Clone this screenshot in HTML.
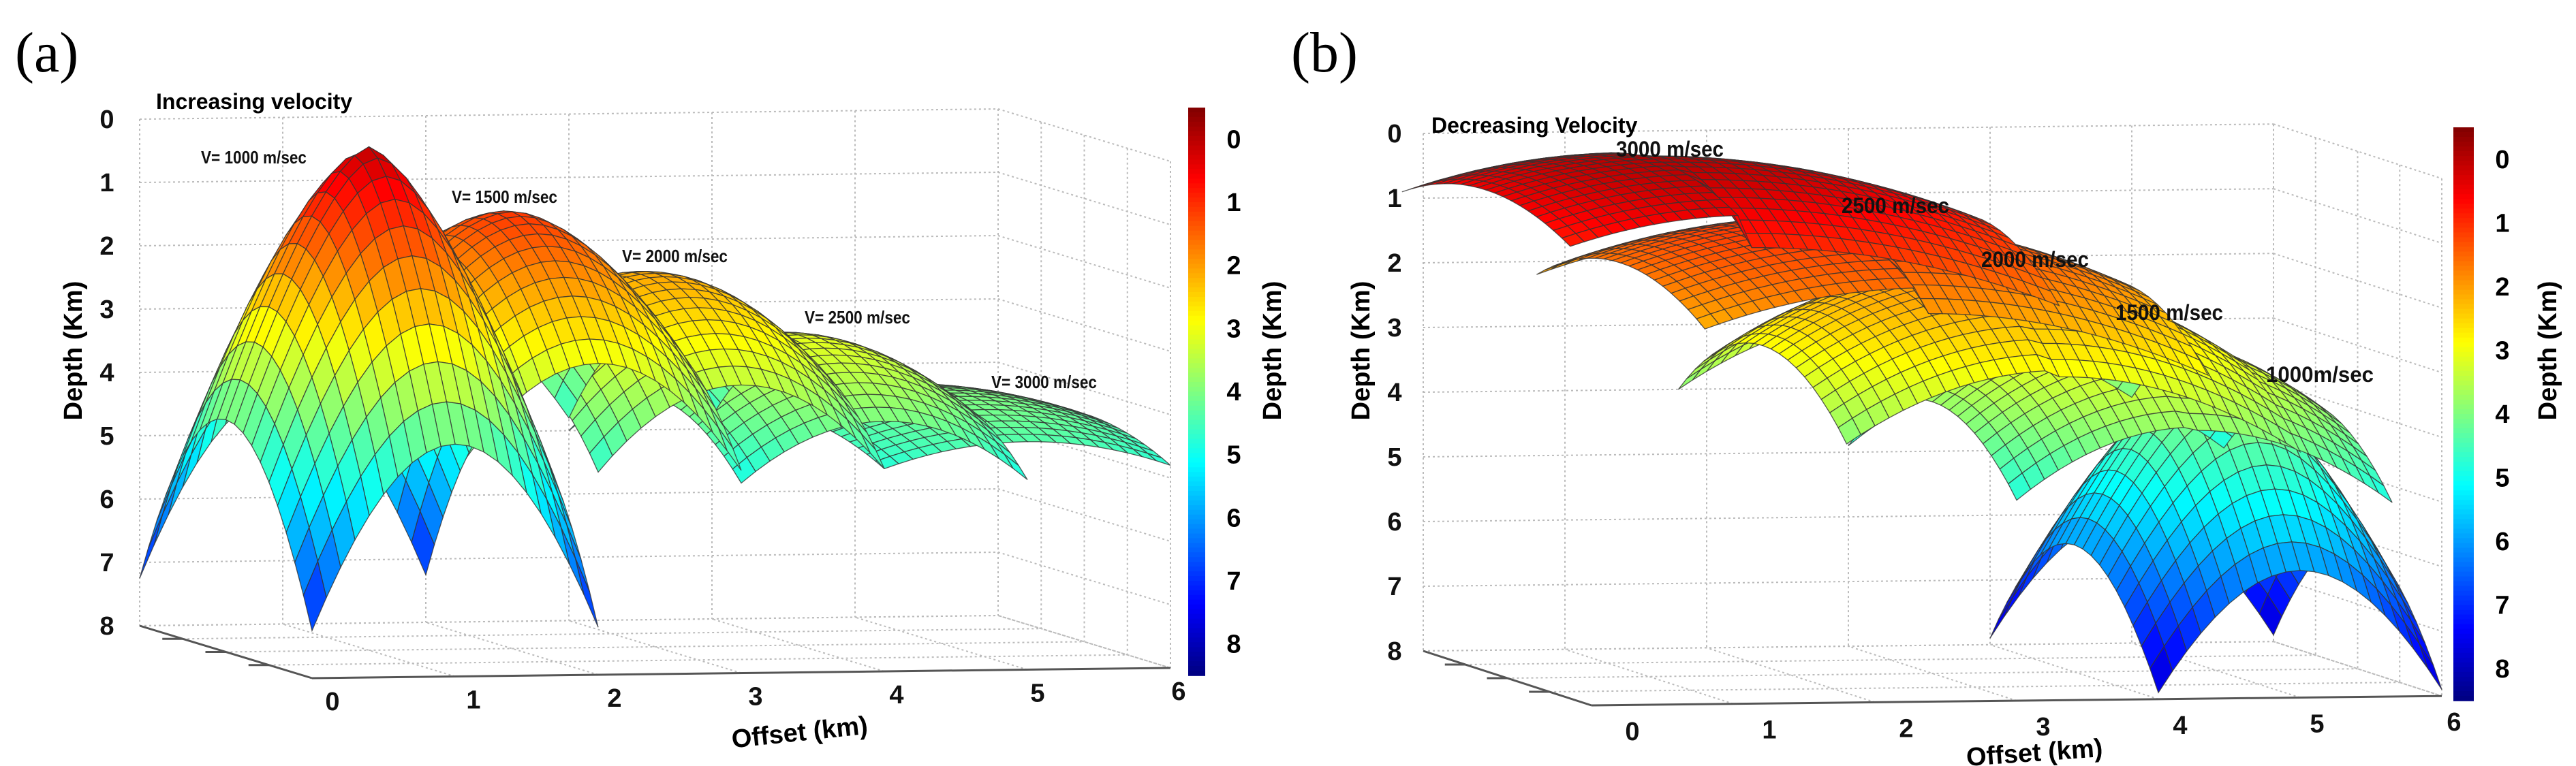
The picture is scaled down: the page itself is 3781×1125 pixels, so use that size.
<!DOCTYPE html>
<html><head><meta charset="utf-8"><style>
html,body{margin:0;padding:0;background:#fff;}
svg{display:block;font-family:"Liberation Sans",sans-serif;}
</style></head><body>
<svg id="fig" width="3781" height="1125" viewBox="0 0 3781 1125" xmlns="http://www.w3.org/2000/svg">
<rect x="0" y="0" width="3781" height="1125" fill="#fff"/>
<g id="panelA"></g>
<g id="panelB"></g>
</svg>
<script>
// ---- data ----
const xTicks = [0,1,2,3,4,5,6];
const zTicks = [0,1,2,3,4,5,6,7,8];
const cbTicks = [0,1,2,3,4,5,6,7,8];
// panel (a): increasing velocity
const aVel = ["V= 1000 m/sec","V= 1500 m/sec","V= 2000 m/sec","V= 2500 m/sec","V= 3000 m/sec"];
const aCenter = [1,2,3,4,5];
const aHalfWL = [1,1,1,1,1];
const aHalfWR = [1,1,1,1,1];
const aApex = [0.05,1.1,2.1,3.1,4.0];
const aCornerL = [7.25,4.8,4.8,5.0,4.8];
const aCornerR = [7.25,4.8,4.8,5.0,4.8];
const aPow = [0.75,0.9,1,1,1];
// panel (b): decreasing velocity
const bVel = ["3000 m/sec","2500 m/sec","2000 m/sec","1500 m/sec","1000m/sec"];
const bCenter = [1.1,2.35,3.3,4.25,5];
const bHalfWL = [1.25,1.55,1.5,1.25,1];
const bHalfWR = [2.2,2.0,1.7,1.4,1];
const bApex = [0.0,1.0,1.8,2.7,3.3];
const bCornerL = [0.9,2.2,4.0,4.9,7.9];
const bCornerR = [1.9,3.0,4.2,5.0,7.9];
const bPow = [1,1,1,1,0.75];

const NS="http://www.w3.org/2000/svg";
function mk(parent,tag,attrs,text){const e=document.createElementNS(NS,tag);for(const k in attrs)e.setAttribute(k,attrs[k]);if(text!==undefined)e.textContent=text;parent.appendChild(e);return e;}
function jet(z){let v=1-(z+0.5)/9;const c=t=>Math.max(0,Math.min(1,t));
 const r=c(1.5-Math.abs(4*v-3)),g=c(1.5-Math.abs(4*v-2)),b=c(1.5-Math.abs(4*v-1));
 return `rgb(${Math.round(r*255)},${Math.round(g*255)},${Math.round(b*255)})`;}

function panel(g,cfg){
 const P=(x,t,z)=>[cfg.ox+x*cfg.ux+t*cfg.bx, cfg.oy+x*cfg.uy+t*cfg.by+(z-8)*cfg.zs];
 const grid=mk(g,'g',{stroke:'#bbb','stroke-width':2,'stroke-dasharray':'3 4',fill:'none'});
 
 const L=(a,b)=>mk(grid,'line',{x1:a[0],y1:a[1],x2:b[0],y2:b[1]});
 zTicks.forEach(z=>{L(P(0,1,z),P(6,1,z));L(P(6,1,z),P(6,0,z));});
 xTicks.forEach(x=>{L(P(x,1,0),P(x,1,8));L(P(x,0,8),P(x,1,8));});
 [0.25,0.5,0.75,1].forEach(t=>{L(P(6,t,0),P(6,t,8));L(P(0,t,8),P(6,t,8));});
 L(P(6,0,0),P(6,0,8));
 const ax=mk(g,'g',{stroke:'#555','stroke-width':3});
 
 let a=P(0,0,8),b=P(6,0,8);mk(ax,'line',{x1:a[0],y1:a[1],x2:b[0],y2:b[1]});
 a=P(0,1,8);mk(ax,'line',{x1:a[0],y1:a[1],x2:P(0,0,8)[0],y2:P(0,0,8)[1]});
 [0.25,0.5,0.75].forEach(t=>{const p=P(0,t,8);mk(ax,'line',{x1:p[0]-30,y1:p[1],x2:p[0],y2:p[1]});});
 // surfaces
 const sg=mk(g,'g',{stroke:'#333','stroke-width':1.3,'stroke-opacity':0.8});
 
 const NT=20;
 for(let s=cfg.center.length-1;s>=0;s--){
  const xc=cfg.center[s],wl=cfg.wl[s],wr=cfg.wr[s],z0=cfg.apex[s],zl=cfg.cl[s],zr=cfg.cr[s],p=cfg.pow[s];
  const surf=mk(sg,'g',{});
  
  
  const NX=Math.max(12,Math.round(10*(wl+wr)));
  const X=i=>xc-wl+(wl+wr)*i/NX, T=j=>j/NT;
  const Z=(i,j)=>{const x=X(i);const left=x<xc;const dx=(x-xc)/(left?wl:wr),dt=2*j/NT-1;
   return z0+((left?zl:zr)-z0)*Math.pow((dx*dx+dt*dt)/2,p);};
  const quads=[];
  for(let i=0;i<NX;i++)for(let j=0;j<NT;j++)quads.push([i,j]);
  quads.sort((q1,q2)=>((q2[1]/NT+X(q2[0])*0.07)-(q1[1]/NT+X(q1[0])*0.07)));
  quads.forEach(([i,j])=>{
   const pts=[[i,j],[i+1,j],[i+1,j+1],[i,j+1]].map(([u,v])=>P(X(u),T(v),Z(u,v)));
   const zm=(Z(i,j)+Z(i+1,j)+Z(i+1,j+1)+Z(i,j+1))/4;
   const poly=mk(surf,'polygon',{points:pts.map(q=>q[0].toFixed(1)+','+q[1].toFixed(1)).join(' '),fill:jet(zm)});
   
   
  });
 }
 // labels
 const tl=mk(g,'g',{'font-weight':'bold','font-size':38,fill:'#111'});
 zTicks.forEach(z=>{const t=mk(tl,'text',{x:cfg.ytx,y:P(0,1,z)[1]+13,'text-anchor':'middle'},String(z));
  });
 xTicks.forEach(x=>{const q=P(x,0,8);const t=mk(tl,'text',{x:q[0]+cfg.xtdx-cfg.xtk*x,y:q[1]+cfg.xtdy+14,'text-anchor':'middle'},String(x));
  });
 let t=mk(g,'text',{x:0,y:0,'font-weight':'bold','font-size':38,'text-anchor':'middle',transform:`translate(${cfg.ylx},515) rotate(-90)`},'Depth (Km)');
 
 t=mk(g,'text',{x:0,y:0,'font-weight':'bold','font-size':38,'text-anchor':'middle',transform:`translate(${cfg.xlx},${cfg.xly}) rotate(${cfg.xlr})`},'Offset (km)');
 
 t=mk(g,'text',{x:cfg.tx,y:cfg.ty,'font-weight':'bold','font-size':32},cfg.title);
 
 t=mk(g,'text',{x:cfg.lx,y:105,'font-size':84,'font-family':'"Liberation Serif",serif'},cfg.letter);
 
 cfg.vel.forEach((v,k)=>{const e=mk(g,'text',{x:cfg.vlx[k],y:cfg.vly[k],'font-weight':'bold','font-size':cfg.vfs,fill:'#111',textLength:cfg.vlw,lengthAdjust:'spacingAndGlyphs'},v);
  });
 // colorbar
 const cb=mk(g,'g',{});
 const ny=120,h=(cfg.cbB-cfg.cbT)/ny;
 for(let k=0;k<ny;k++){const zz=-0.5+9*(k+0.5)/ny;
  const yy=cfg.cbT+(zz+0.5)/9*(cfg.cbB-cfg.cbT)-h/2;
  mk(cb,'rect',{x:cfg.cbX,y:yy.toFixed(1),width:cfg.cbW,height:(h+0.8).toFixed(1),fill:jet(zz)});}
 const cbz=z=>cfg.cbT+(z+0.5)/9*(cfg.cbB-cfg.cbT);
 cbTicks.forEach(z=>{const e=mk(cb,'text',{x:cfg.cbX+cfg.cbW+42,y:cbz(z)+13,'font-weight':'bold','font-size':38,'text-anchor':'middle'},String(z));
  });
 t=mk(cb,'text',{x:0,y:0,'font-weight':'bold','font-size':38,'text-anchor':'middle',transform:`translate(${cfg.cblx},515) rotate(-90)`},'Depth (Km)');
 
}
panel(document.getElementById('panelA'),{ox:458,oy:996,ux:210,uy:-2.5,bx:-253,by:-77,zs:93,
 center:aCenter,wl:aHalfWL,wr:aHalfWR,apex:aApex,cl:aCornerL,cr:aCornerR,pow:aPow,vel:aVel,
 ytx:157,xtdx:30,xtk:3,xtdy:33,ylx:120,xlx:1175,xly:1088,xlr:-6,
 tx:229,ty:160,title:'Increasing velocity',lx:22,letter:'(a)',
 vlx:[295,663,913,1181,1455],vly:[240,298,385,475,570],vfs:26,vlw:155,
 cbX:1744,cbW:25,cbT:158,cbB:992,cblx:1880});
panel(document.getElementById('panelB'),{ox:2336,oy:1036,ux:208,uy:-2.3,bx:-247,by:-80,zs:95,
 center:bCenter,wl:bHalfWL,wr:bHalfWR,apex:bApex,cl:bCornerL,cr:bCornerR,pow:bPow,vel:bVel,
 ytx:2047,xtdx:60,xtk:7,xtdy:37,ylx:2010,xlx:2987,xly:1118,xlr:-4,
 tx:2101,ty:195,title:'Decreasing Velocity',lx:1895,letter:'(b)',
 vlx:[2372,2703,2908,3105,3326],vly:[230,313,392,470,561],vfs:32,vlw:158,
 cbX:3601,cbW:30,cbT:187,cbB:1029,cblx:3752});
</script>
</body></html>
